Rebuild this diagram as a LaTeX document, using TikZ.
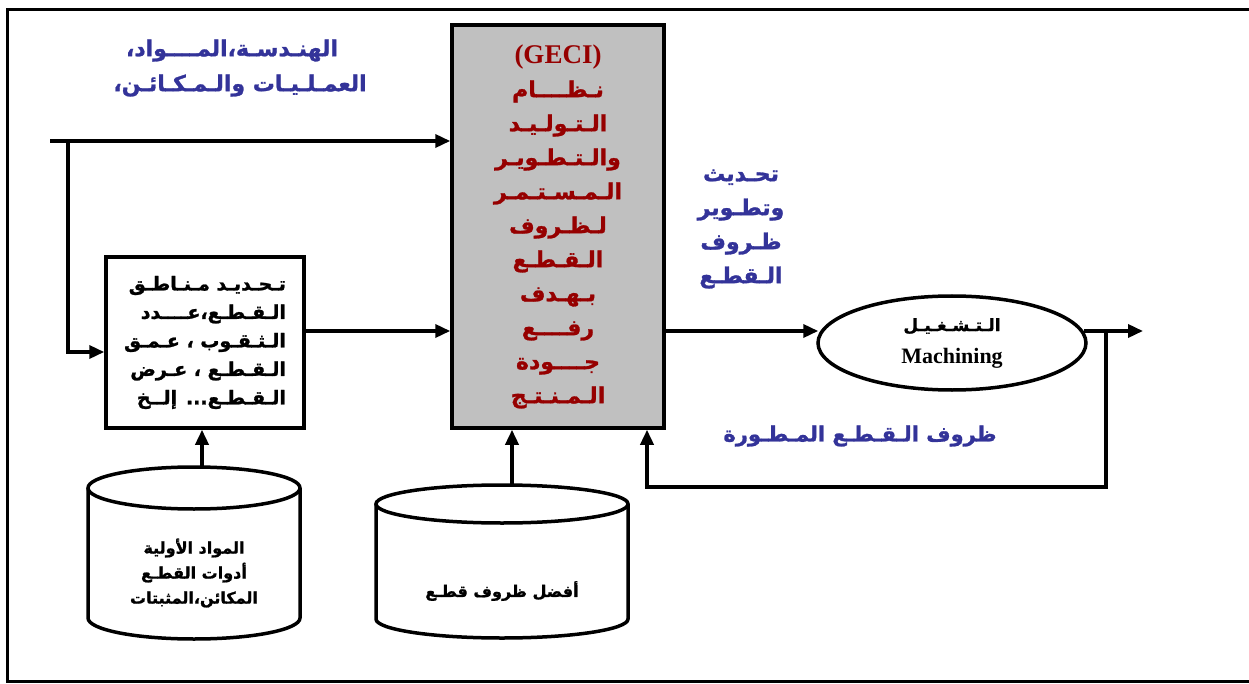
\documentclass[tikz,border=0pt]{standalone}
\usepackage{fontspec}
\usetikzlibrary{arrows.meta,positioning,calc,shapes.geometric}
\setmainfont{Liberation Serif}
\newfontfamily\arabicfont[Script=Arabic,BoldFeatures={FakeBold=1.2}]{DejaVu Sans}
\TeXXeTstate=1
\definecolor{GeciGray}{RGB}{192,192,192}
\definecolor{GeciRed}{RGB}{150,0,0}
\definecolor{LabelBlue}{RGB}{51,51,153}
\newcommand{\artxt}[1]{{\arabicfont\bfseries\beginR #1\endR}}

\begin{document}
\begin{tikzpicture}[x=1pt,y=-1pt,>={Triangle[length=15pt,width=13pt]},
  flow/.style={->,line width=3.5pt},
  box/.style={draw,line width=3.5pt,inner sep=0pt},
  lbl/.style={align=center,inner sep=0pt}]
  \useasboundingbox (0,0) rectangle (1249,684);
  % outer frame
  \draw[line width=3pt] (1249,10) -- (7,10) -- (7,681) -- (1249,681);

  % main blocks
  \node[box,fill=GeciGray,minimum width=212pt,minimum height=403pt,text=GeciRed,
    align=center,font=\fontsize{22}{34}\selectfont] (geci) at (558,226.5)
    {{\fontsize{27}{34}\selectfont\bfseries (GECI)}\\
     \artxt{نـظــــام}\\ \artxt{الـتـولـيـد}\\ \artxt{والـتـطـويـر}\\
     \artxt{الـمـسـتـمـر}\\ \artxt{لـظـروف}\\ \artxt{الـقـطـع}\\
     \artxt{بـهـدف}\\ \artxt{رفــــع}\\ \artxt{جــــودة}\\ \artxt{الـمـنـتـج}};
  \node[box,minimum width=198pt,minimum height=171pt,align=right,
    font=\fontsize{19}{28.5}\selectfont] (zones) at (205,342.5)
    {\artxt{تـحـديـد مـنـاطـق}\\ \artxt{الـقـطـع،عــــدد}\\
     \artxt{الـثـقـوب ، عـمـق}\\ \artxt{الـقـطـع ، عـرض}\\
     \artxt{الـقـطـع... إلــخ}};
  \node[draw,ellipse,line width=3.5pt,minimum width=268pt,minimum height=94pt,
    align=center,font=\fontsize{17}{32}\selectfont] (mach) at (952,343)
    {\artxt{الـتـشـغـيـل}\\ {\fontsize{22}{32}\selectfont\bfseries Machining}};

  % data stores
  \draw[line width=3.5pt,fill=white] (88,488) -- (88,618)
    arc[start angle=180,end angle=360,x radius=106pt,y radius=21pt] -- (300,488);
  \draw[line width=3.5pt] (194,488) ellipse[x radius=106pt,y radius=21pt];
  \draw[line width=3.5pt,fill=white] (376,504) -- (376,619)
    arc[start angle=180,end angle=360,x radius=126pt,y radius=19pt] -- (628,504);
  \draw[line width=3.5pt] (502,504) ellipse[x radius=126pt,y radius=19pt];
  \node[lbl,font=\fontsize{16}{25}\selectfont] (stock) at (194,573)
    {\artxt{المواد الأولية}\\ \artxt{أدوات القطـع}\\ \artxt{المكائن،المثبتات}};
  \node[lbl,font=\fontsize{16}{25}\selectfont] (best) at (502,591)
    {\artxt{أفضل ظروف قطـع}};

  % labels
  \node[lbl,text=LabelBlue,font=\fontsize{22}{35}\selectfont] (inputs) at (232,68)
    {\artxt{الهنـدسـة،المــــواد،}\hspace{16pt}\\
     \hspace{16pt}\artxt{العمـلـيـات والـمـكـائـن،}};
  \node[lbl,text=LabelBlue,font=\fontsize{22}{34}\selectfont] (update) at (741,229)
    {\artxt{تحـديث}\\ \artxt{وتطـوير}\\ \artxt{ظـروف}\\ \artxt{الـقطـع}};
  \node[lbl,text=LabelBlue,font=\fontsize{21}{34}\selectfont] (improved) at (860,436)
    {\artxt{ظروف الـقـطـع المـطـورة}};

  % connectors
  \coordinate (feed) at (50,141);
  \coordinate (split) at (68,141);
  \coordinate (zin) at (0,352);
  \coordinate (mid) at (0,331);
  \coordinate (out) at (1143,331);
  \coordinate (fb) at (1106,487);
  \coordinate (fbin) at (647,0);
  \coordinate (stocktop) at (202,467);
  \coordinate (besttop) at (512,485);
  \draw[flow] (feed) -- (feed -| geci.west);
  \draw[flow] (split) |- (zones.west |- zin);
  \draw[flow] (zones.east |- mid) -- (geci.west |- mid);
  \draw[flow] (geci.east |- mid) -- ($(mach.west |- mid)+(2,0)$);
  \draw[flow] ($(mach.east |- mid)+(-4,0)$) -- (out);
  \draw[flow] (fb |- mid) -- (fb) -| (geci.south -| fbin);
  \draw[flow] (stocktop) -- (zones.south -| stocktop);
  \draw[flow] (besttop) -- (geci.south -| besttop);
\end{tikzpicture}
\end{document}
